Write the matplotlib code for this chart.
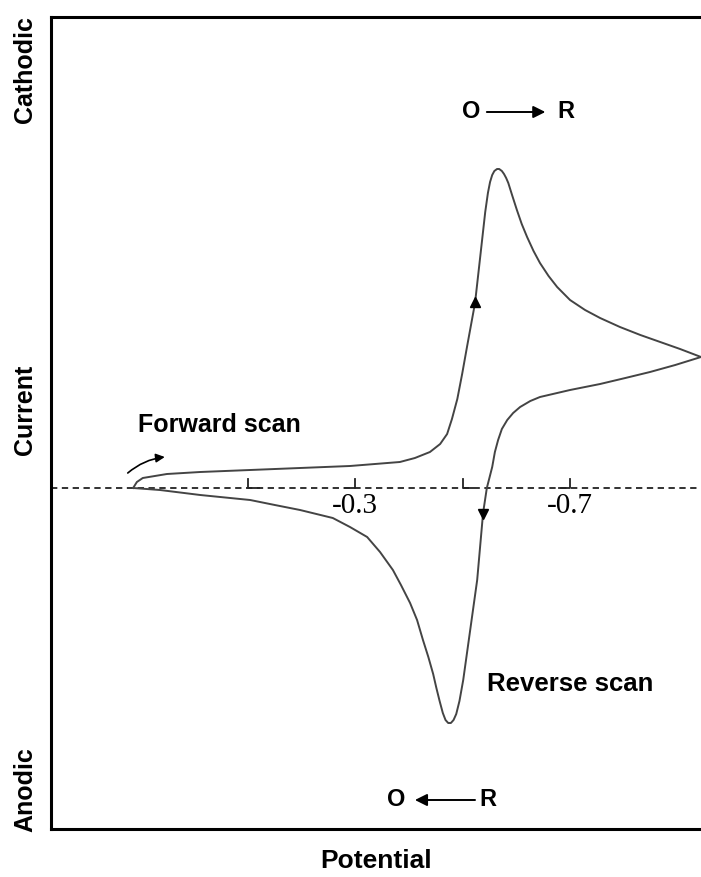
import matplotlib
matplotlib.use("Agg")
import matplotlib.pyplot as plt

# Cyclic voltammogram, potential in V, current in arbitrary units (cathodic positive)
fwd_E = [0.114, 0.107, 0.096, 0.051, -0.011, -0.104, -0.197, -0.290, -0.383,
         -0.411, -0.439, -0.458, -0.471, -0.480, -0.490, -0.499, -0.508,
         -0.523, -0.532, -0.542, -0.547, -0.551, -0.555, -0.559, -0.564,
         -0.568, -0.573, -0.577, -0.581, -0.585, -0.592, -0.601, -0.610,
         -0.620, -0.632, -0.644, -0.660, -0.676, -0.700, -0.728, -0.756,
         -0.793, -0.831, -0.868, -0.905, -0.944]
fwd_i = [0.0, 0.6, 1.0, 1.4, 1.6, 1.8, 2.0, 2.2, 2.6,
         3.0, 3.6, 4.4, 5.4, 6.9, 8.9, 11.4, 14.1,
         18.5, 22.8, 27.6, 29.5, 30.6, 31.3, 31.7, 31.9,
         31.9, 31.7, 31.4, 31.0, 30.5, 29.3, 27.8, 26.4,
         25.1, 23.7, 22.5, 21.2, 20.1, 18.8, 17.8, 17.0,
         16.1, 15.3, 14.6, 13.9, 13.1]

rev_E = [-0.944, -0.896, -0.849, -0.803, -0.756, -0.700, -0.644, -0.626,
         -0.607, -0.594, -0.583, -0.573, -0.566, -0.560, -0.555, -0.545,
         -0.538, -0.527, -0.514, -0.501, -0.494, -0.488, -0.483, -0.478,
         -0.473, -0.468, -0.463, -0.457, -0.451, -0.445, -0.436, -0.426,
         -0.415, -0.402, -0.385, -0.370, -0.346, -0.322, -0.290, -0.258,
         -0.197, -0.150, -0.104, -0.011, 0.064, 0.114]
rev_i = [13.1, 12.3, 11.6, 11.0, 10.4, 9.8, 9.1, 8.7,
         8.1, 7.5, 6.8, 5.9, 4.8, 3.6, 2.1, 0.0,
         -2.5, -9.2, -14.2, -19.2, -21.3, -22.6, -23.2, -23.5,
         -23.5, -23.2, -22.5, -21.3, -20.0, -18.6, -16.9, -15.2,
         -13.2, -11.5, -9.7, -8.2, -6.4, -4.9, -3.9, -3.0,
         -2.2, -1.7, -1.2, -0.7, -0.2, 0.0]

tick_E = [-0.1, -0.3, -0.5, -0.7]
tick_labels = {-0.3: "-0.3", -0.7: "-0.7"}

sans = ["Liberation Sans", "DejaVu Sans"]
serif = ["Liberation Serif", "DejaVu Serif"]
line_col = "#444444"

fig = plt.figure(figsize=(7.01, 8.77), dpi=100)
ax = fig.add_axes([51 / 701, 48 / 877, 1 - 51 / 701, 812 / 877])
ax.set_xlim(0.267, -0.944)
ax.set_ylim(-34.1, 47.1)
ax.set_xticks([])
ax.set_yticks([])
ax.spines["right"].set_visible(False)
for s in ["left", "top", "bottom"]:
    ax.spines[s].set_linewidth(2.2)

# zero-current baseline
ax.axhline(0, color="#222222", lw=1.3, linestyle=(0, (3.5, 2.5)), zorder=1)

# bracket-style potential ticks: └ for the unlabeled, ┘ for the labeled ones
for k, e in enumerate(tick_E):
    d = -0.02 if k % 2 == 0 else 0.02
    ax.plot([e, e, e + d], [0.9, 0, 0], color="#222222", lw=1.3, zorder=2)
    if e in tick_labels:
        ax.text(e, -2.5, tick_labels[e], family=serif, fontsize=21,
                ha="center", va="baseline")

ax.plot(fwd_E, fwd_i, color=line_col, lw=1.4, zorder=3, solid_joinstyle="round")
ax.plot(rev_E, rev_i, color=line_col, lw=1.4, zorder=3, solid_joinstyle="round")

# direction markers on the branches
ax.plot([-0.523], [18.6], marker="^", color="black", ms=7, zorder=4)
ax.plot([-0.538], [-2.6], marker="v", color="black", ms=7, zorder=4)

# forward scan hint
ax.annotate("", xy=(0.055, 3.1), xytext=(0.124, 1.5),
            arrowprops=dict(arrowstyle="-|>", color="black", lw=1.2,
                            mutation_scale=13, shrinkA=0, shrinkB=0,
                            connectionstyle="arc3,rad=-0.15"))
ax.text(0.105, 6.3, "Forward scan", family=sans, fontweight="bold",
        fontsize=18, ha="left", va="center")
ax.text(-0.700, -19.6, "Reverse scan", family=sans, fontweight="bold",
        fontsize=18.5, ha="center", va="center")

# O -> R (reduction), O <- R (oxidation)
ax.text(-0.516, 37.6, "O", family=sans, fontweight="bold", fontsize=17,
        ha="center", va="center")
ax.annotate("", xy=(-0.654, 37.6), xytext=(-0.545, 37.6),
            arrowprops=dict(arrowstyle="-|>", color="black", lw=1.4,
                            mutation_scale=18, shrinkA=0, shrinkB=0))
ax.text(-0.693, 37.6, "R", family=sans, fontweight="bold", fontsize=17,
        ha="center", va="center")

ax.text(-0.376, -31.2, "O", family=sans, fontweight="bold", fontsize=17,
        ha="center", va="center")
ax.annotate("", xy=(-0.411, -31.2), xytext=(-0.523, -31.2),
            arrowprops=dict(arrowstyle="-|>", color="black", lw=1.4,
                            mutation_scale=18, shrinkA=0, shrinkB=0))
ax.text(-0.547, -31.2, "R", family=sans, fontweight="bold", fontsize=17,
        ha="center", va="center")

# axis labels
fig.text(376 / 701, 1 - 861 / 877, "Potential", family=sans, fontweight="bold",
         fontsize=19, ha="center", va="center")
fig.text(25 / 701, 1 - 410 / 877, "Current", family=sans, fontweight="bold",
         fontsize=18, ha="center", va="center", rotation=90)
fig.text(25 / 701, 1 - 70 / 877, "Cathodic", family=sans, fontweight="bold",
         fontsize=18, ha="center", va="center", rotation=90)
fig.text(25 / 701, 1 - 790 / 877, "Anodic", family=sans, fontweight="bold",
         fontsize=18, ha="center", va="center", rotation=90)

fig.savefig("out.png", dpi=100)
